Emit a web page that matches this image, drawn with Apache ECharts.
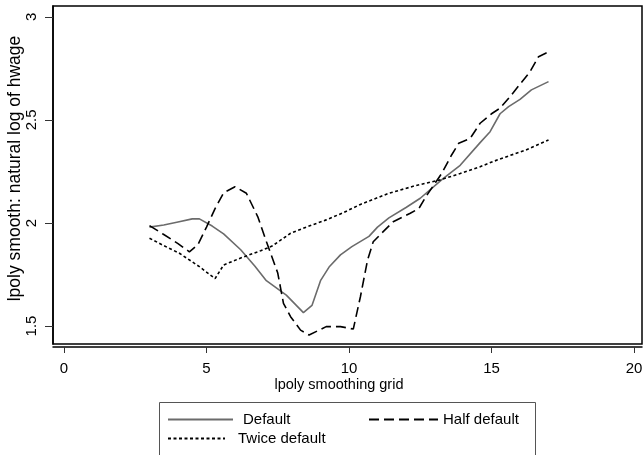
<!DOCTYPE html>
<html>
<head>
    <meta charset="utf-8">
    <script src="https://cdn.jsdelivr.net/npm/echarts@6/dist/echarts.min.js"></script>
    <style>
        body, html {
            margin: 0;
            height: 100%;
            background: #fff;
        }
        #main {
            width: 644px;
            height: 455px;
        }
    </style>
</head>
<body>
<div id="main"></div>

<script>
    // grid points and smoothed values
    var defaultX = [3, 3.5, 4, 4.5, 4.75, 5.2, 5.6, 6.2, 6.7, 7.1, 7.8, 8.4, 8.7, 9.0, 9.3, 9.7, 10.1, 10.7, 11.0, 11.4, 12.0, 12.5, 13.3, 13.9, 14.6, 14.95, 15.3, 15.6, 16.0, 16.4, 17.0];
    var defaultY = [1.98, 1.99, 2.005, 2.02, 2.02, 1.985, 1.947, 1.87, 1.79, 1.72, 1.65, 1.565, 1.60, 1.72, 1.786, 1.845, 1.885, 1.935, 1.98, 2.025, 2.075, 2.12, 2.215, 2.28, 2.39, 2.443, 2.53, 2.565, 2.6, 2.646, 2.686];

    var halfX = [3, 3.5, 4, 4.4, 4.7, 5.0, 5.3, 5.6, 6.0, 6.4, 6.8, 7.1, 7.5, 7.7, 7.95, 8.3, 8.6, 9.2, 9.7, 10.15, 10.4, 10.65, 10.85, 11.2, 11.55, 12.15, 12.45, 12.7, 13.25, 13.6, 13.85, 14.25, 14.6, 15.0, 15.3, 15.65, 16.35, 16.65, 16.9, 17];
    var halfY = [1.987, 1.944, 1.90, 1.86, 1.895, 1.98, 2.07, 2.146, 2.176, 2.144, 2.03, 1.91, 1.757, 1.61, 1.545, 1.48, 1.456, 1.497, 1.497, 1.485, 1.642, 1.82, 1.909, 1.958, 2.006, 2.047, 2.07, 2.128, 2.24, 2.33, 2.387, 2.41, 2.484, 2.53, 2.557, 2.613, 2.734, 2.807, 2.824, 2.83];

    var twiceX = [3, 3.5, 4.05, 4.75, 5.3, 5.6, 6.2, 6.9, 7.3, 7.95, 8.5, 9.2, 9.8, 10.4, 11.4, 12.3, 13.2, 13.9, 14.6, 15.05, 15.6, 16.2, 17];
    var twiceY = [1.926, 1.89, 1.853, 1.788, 1.73, 1.796, 1.83, 1.865, 1.888, 1.95, 1.98, 2.015, 2.05, 2.09, 2.144, 2.18, 2.209, 2.24, 2.273, 2.298, 2.325, 2.354, 2.403];

    var xTicks = [0, 5, 10, 15, 20];
    var yTicks = [1.5, 2, 2.5, 3];

    function pairs(xs, ys) {
        var out = [];
        for (var i = 0; i < xs.length; i++) out.push([xs[i], ys[i]]);
        return out;
    }

    var font = '"Liberation Sans", Arial, sans-serif';
    var myChart = echarts.init(document.getElementById('main'));

    // one legend block per entry so the Stata-like 2-column layout can be placed by hand
    function legendAt(left, top, name, w, gap) {
        return {
            left: left,
            top: top,
            padding: 0,
            orient: 'horizontal',
            itemWidth: w,
            itemHeight: 14,
            itemGap: 0,
            data: [name],
            itemStyle: {opacity: 0, borderWidth: 0},
            textStyle: {fontFamily: font, fontSize: 15, color: '#000', padding: [0, 0, 0, gap]}
        };
    }

    option = {
        animation: false,
        backgroundColor: '#fff',
        grid: {
            left: 53, right: 2, top: 6, bottom: 111,
            outerBoundsMode: 'none',
            containLabel: false,
            show: true,
            borderColor: '#000',
            borderWidth: 1.5
        },
        legend: [
            legendAt(167, 412, 'Default', 65, 5),
            legendAt(368, 412, 'Half default', 69, 0),
            legendAt(167, 431, 'Twice default', 57, 8)
        ],
        graphic: [{
            type: 'rect',
            z: -1,
            shape: {x: 159.5, y: 402.5, width: 376, height: 70},
            style: {fill: 'none', stroke: '#555', lineWidth: 1},
            silent: true
        }],
        xAxis: {
            type: 'value',
            min: -0.386,
            max: 20.28,
            offset: 3,
            splitLine: {show: false},
            axisLine: {show: true, onZero: false, lineStyle: {color: '#000', width: 1.5}},
            axisTick: {show: true, length: 6, customValues: xTicks, lineStyle: {color: '#333'}},
            axisLabel: {customValues: xTicks, margin: 14, fontFamily: font, fontSize: 15, color: '#000'},
            name: 'lpoly smoothing grid',
            nameLocation: 'middle',
            nameGap: 30,
            nameMoveOverlap: false,
            nameTextStyle: {fontFamily: font, fontSize: 14.5, color: '#000', padding: [0, 17, 0, 0]}
        },
        yAxis: {
            type: 'value',
            min: 1.4126,
            max: 3.053,
            splitLine: {show: false},
            axisLine: {show: true, onZero: false, lineStyle: {color: '#000', width: 1.5}},
            axisTick: {show: true, length: 8, customValues: yTicks, lineStyle: {color: '#333'}},
            axisLabel: {customValues: yTicks, rotate: 90, margin: 14, fontFamily: font, fontSize: 15, color: '#000'},
            name: 'lpoly smooth: natural log of hwage',
            nameLocation: 'middle',
            nameGap: 29,
            nameMoveOverlap: false,
            nameTextStyle: {fontFamily: font, fontSize: 17.5, color: '#000', padding: [0, 0, 0, 13]}
        },
        series: [
            {
                name: 'Default',
                type: 'line',
                symbol: 'none',
                data: pairs(defaultX, defaultY),
                lineStyle: {color: '#6b6b6b', width: 1.6, type: 'solid'},
                itemStyle: {color: '#6b6b6b'}
            },
            {
                name: 'Half default',
                type: 'line',
                symbol: 'none',
                data: pairs(halfX, halfY),
                lineStyle: {color: '#000', width: 1.6, type: [10, 5]},
                itemStyle: {color: '#000'}
            },
            {
                name: 'Twice default',
                type: 'line',
                symbol: 'none',
                data: pairs(twiceX, twiceY),
                lineStyle: {color: '#000', width: 1.6, type: [3, 2.5]},
                itemStyle: {color: '#000'}
            }
        ]
    };

    myChart.setOption(option);
</script>
</body>
</html>
